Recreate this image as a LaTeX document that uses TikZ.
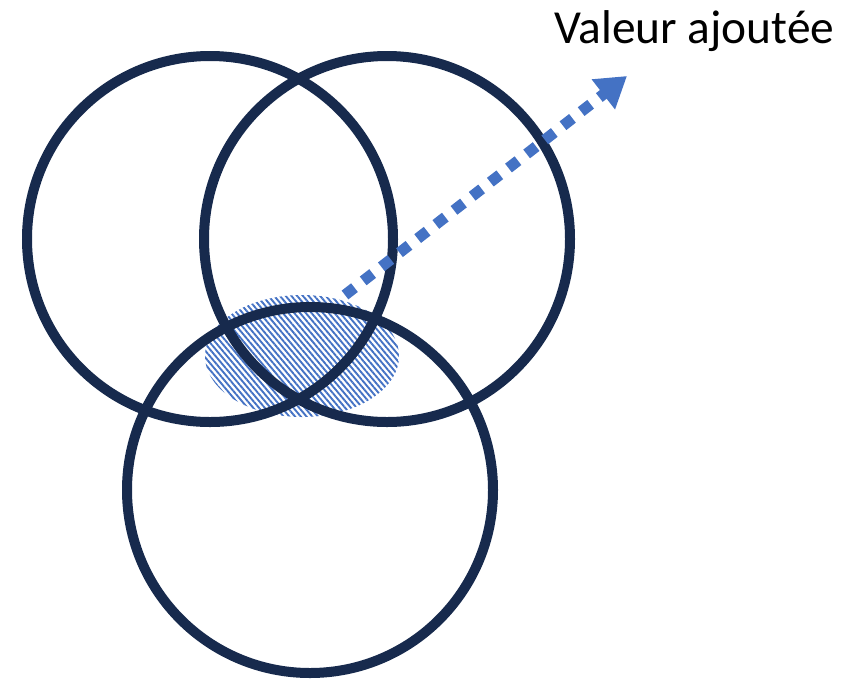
\documentclass[tikz,border=0pt]{standalone}
\usepackage{fontspec}
\setmainfont{Carlito}
\usetikzlibrary{arrows.meta,patterns.meta}
\definecolor{navy}{RGB}{23,42,77}
\definecolor{vablue}{RGB}{68,114,196}

\begin{document}
\begin{tikzpicture}[x=1pt, y=-1pt,
  circ/.style={draw=navy, line width=10pt},
  hatch/.style={pattern={Lines[angle=-50, distance=4.4pt, line width=1.9pt]}, pattern color=vablue},
  arr/.style={draw=vablue, line width=11pt, dash pattern=on 12pt off 11pt, -{Triangle[length=30pt, width=36pt]}}]
\useasboundingbox (0,0) rectangle (848,681);
% shared zone
\path[hatch] (302,356) ellipse [x radius=97, y radius=61];
% three circles
\draw[circ] (210,239) circle [radius=183];
\draw[circ] (387,239) circle [radius=183];
\draw[circ] (310,490) circle [radius=183];
% value arrow
\coordinate (from) at (345,295);
\coordinate (to) at (627,76);
\node[anchor=base west, font=\fontsize{47.4}{52}\selectfont, inner sep=0pt] (label) at (554,43) {Valeur ajoutée};
\draw[arr] (from) -- (to);
\end{tikzpicture}
\end{document}
